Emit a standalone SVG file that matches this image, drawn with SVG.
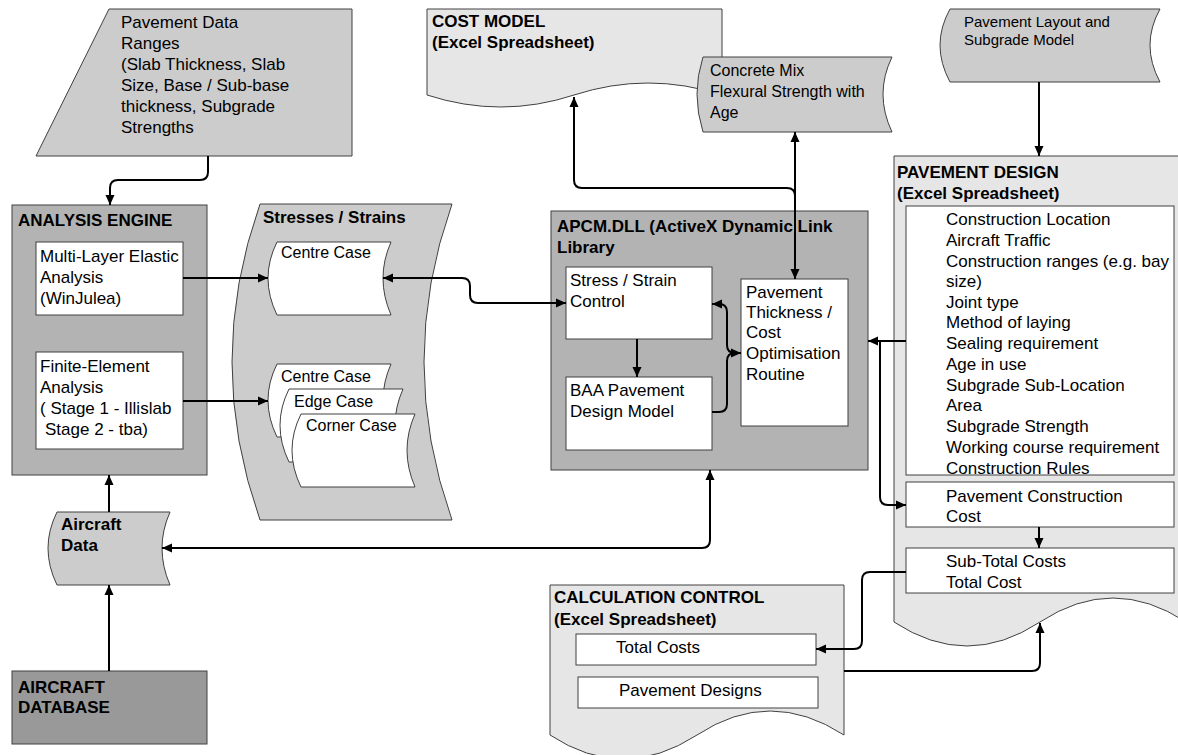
<svg xmlns="http://www.w3.org/2000/svg" width="1178" height="755" viewBox="0 0 1178 755">
<style>
text{font-family:"Liberation Sans",Arial,Helvetica,sans-serif;font-size:17px;fill:#000}
.b{font-weight:bold}
.m{font-size:16px}
.sm{font-size:15px}
.sh{stroke:#404040;stroke-width:1}
.g1{fill:#cccccc}
.g2{fill:#b3b3b3}
.g3{fill:#e6e6e6}
.g4{fill:#999999}
.w{fill:#ffffff}
.c{fill:none;stroke:#000;stroke-width:2}
</style>
<defs>
<marker id="a" viewBox="0 0 10 10" refX="10" refY="5" markerWidth="10" markerHeight="10" markerUnits="userSpaceOnUse" orient="auto-start-reverse"><path d="M0,0.5 L10,5 L0,9.5 z" fill="#000"/></marker>
</defs>

<g id="pavement-data">
<path class="sh g1" d="M109,9 L352,9 L352,156 L36,156 Z"/>
<text x="121" y="28">Pavement Data</text>
<text x="121" y="49">Ranges</text>
<text x="121" y="70">(Slab Thickness, Slab</text>
<text x="121" y="91">Size, Base / Sub-base</text>
<text x="121" y="112">thickness, Subgrade</text>
<text x="121" y="133">Strengths</text>
</g>

<g id="cost-model">
<path class="sh g3" d="M427,9 L722,9 L722,95 Q648,71 574,95 Q501,119 427,95 Z"/>
<text class="b" x="432" y="27">COST MODEL</text>
<text class="b" x="432" y="48">(Excel Spreadsheet)</text>
</g>

<g id="concrete-mix">
<path class="sh g1" d="M703,57 L892,57 Q874,94 892,132 L703,132 Q691,94 703,57 Z"/>
<text class="m" x="710" y="76">Concrete Mix</text>
<text class="m" x="710" y="97">Flexural Strength with</text>
<text class="m" x="710" y="118">Age</text>
</g>

<g id="pavement-layout">
<path class="sh g1" d="M950,9 L1160,9 Q1140,45 1160,82 L950,82 Q930,45 950,9 Z"/>
<text class="sm" x="964" y="27">Pavement Layout and</text>
<text class="sm" x="964" y="45">Subgrade Model</text>
</g>

<g id="analysis-engine">
<rect class="sh g2" x="12" y="205" width="195" height="270"/>
<text class="b" x="18" y="226">ANALYSIS ENGINE</text>
</g>
<g id="multi-layer">
<rect class="sh w" x="36" y="242" width="147" height="73"/>
<text x="40" y="262">Multi-Layer Elastic</text>
<text x="40" y="283">Analysis</text>
<text x="40" y="304">(WinJulea)</text>
</g>
<g id="finite-element">
<rect class="sh w" x="36" y="352" width="147" height="97"/>
<text x="40" y="372">Finite-Element</text>
<text x="40" y="393">Analysis</text>
<text x="40" y="414">( Stage 1 - Illislab</text>
<text x="45" y="435">Stage 2 - tba)</text>
</g>

<g id="stresses-strains">
<path class="sh g1" d="M260,204 L452,204 Q396,362 452,520 L260,520 Q204,362 260,204 Z"/>
<text class="b" x="263" y="223">Stresses / Strains</text>
</g>
<g id="centre-case-1">
<path class="sh w" d="M277,242 L391,242 Q375,278 391,315 L277,315 Q259,278 277,242 Z"/>
<text class="m" x="281" y="258">Centre Case</text>
</g>
<g id="centre-case-2">
<path class="sh w" d="M277,364 L391,364 Q375,400 391,437 L277,437 Q259,400 277,364 Z"/>
<text class="m" x="281" y="382">Centre Case</text>
</g>
<g id="edge-case">
<path class="sh w" d="M289,389 L403,389 Q387,425 403,462 L289,462 Q271,425 289,389 Z"/>
<text class="m" x="294" y="407">Edge Case</text>
</g>
<g id="corner-case">
<path class="sh w" d="M301,414 L415,414 Q399,450 415,487 L301,487 Q283,450 301,414 Z"/>
<text class="m" x="306" y="431">Corner Case</text>
</g>

<g id="apcm">
<rect class="sh g2" x="551" y="211" width="317" height="259"/>
<text class="b" x="557" y="232">APCM.DLL (ActiveX Dynamic Link</text>
<text class="b" x="557" y="253">Library</text>
</g>
<g id="stress-control">
<rect class="sh w" x="566" y="267" width="146" height="72"/>
<text x="570" y="286">Stress / Strain</text>
<text x="570" y="307">Control</text>
</g>
<g id="baa-model">
<rect class="sh w" x="566" y="377" width="146" height="73"/>
<text x="570" y="396">BAA Pavement</text>
<text x="570" y="417">Design Model</text>
</g>
<g id="optimisation">
<rect class="sh w" x="741" y="279" width="107" height="147"/>
<text x="746" y="298">Pavement</text>
<text x="746" y="318">Thickness /</text>
<text x="746" y="338">Cost</text>
<text x="746" y="359">Optimisation</text>
<text x="746" y="380">Routine</text>
</g>

<g id="pavement-design">
<path class="sh g3" d="M894,156 L1186,156 L1186,622 Q1113,574 1040,622 Q967,670 894,622 Z"/>
<text class="b" x="897" y="178">PAVEMENT DESIGN</text>
<text class="b" x="897" y="199">(Excel Spreadsheet)</text>
</g>
<g id="design-inputs">
<rect class="sh w" x="906" y="206" width="268" height="269"/>
<text x="946" y="225">Construction Location</text>
<text x="946" y="246">Aircraft Traffic</text>
<text x="946" y="267">Construction ranges (e.g. bay</text>
<text x="946" y="287">size)</text>
<text x="946" y="308">Joint type</text>
<text x="946" y="328">Method of laying</text>
<text x="946" y="349">Sealing requirement</text>
<text x="946" y="370">Age in use</text>
<text x="946" y="391">Subgrade Sub-Location</text>
<text x="946" y="411">Area</text>
<text x="946" y="432">Subgrade Strength</text>
<text x="946" y="453">Working course requirement</text>
<text x="946" y="474">Construction Rules</text>
</g>
<g id="construction-cost">
<rect class="sh w" x="906" y="482" width="268" height="45"/>
<text x="946" y="502">Pavement Construction</text>
<text x="946" y="522">Cost</text>
</g>
<g id="total-cost">
<rect class="sh w" x="906" y="548" width="268" height="45"/>
<text x="946" y="567">Sub-Total Costs</text>
<text x="946" y="588">Total Cost</text>
</g>

<g id="calculation-control">
<path class="sh g3" d="M550,585 L844,585 L844,735 Q770,687 697,735 Q623,783 550,735 Z"/>
<text class="b" x="554" y="603">CALCULATION CONTROL</text>
<text class="b" x="554" y="625">(Excel Spreadsheet)</text>
</g>
<g id="total-costs">
<rect class="sh w" x="576" y="634" width="240" height="31"/>
<text x="616" y="653">Total Costs</text>
</g>
<g id="pavement-designs">
<rect class="sh w" x="578" y="677" width="240" height="31"/>
<text x="619" y="696">Pavement Designs</text>
</g>

<g id="aircraft-data">
<path class="sh g1" d="M57,512 L170,512 Q154,548 170,585 L57,585 Q39,548 57,512 Z"/>
<text class="b" x="61" y="530">Aircraft</text>
<text class="b" x="61" y="551">Data</text>
</g>
<g id="aircraft-database">
<rect class="sh g4" x="12" y="671" width="195" height="73"/>
<text class="b" x="18" y="693">AIRCRAFT</text>
<text class="b" x="18" y="713">DATABASE</text>
</g>

<g id="connectors">
<path class="c" marker-end="url(#a)" d="M208,156 L208,172 Q208,180 200,180 L118,180 Q110,180 110,188 L110,205"/>
<path class="c" marker-end="url(#a)" d="M183,278 L268,278"/>
<path class="c" marker-end="url(#a)" d="M183,401 L268,401"/>
<path class="c" marker-start="url(#a)" marker-end="url(#a)" d="M383,278 L462,278 Q470,278 470,286 L470,295 Q470,303 478,303 L566,303"/>
<path class="c" marker-end="url(#a)" d="M637,339 L637,377"/>
<path class="c" marker-end="url(#a)" d="M712,412 L719,412 Q727,412 727,404 L727,361 Q727,353 735,353 L741,353"/>
<path class="c" marker-end="url(#a)" d="M735,353 Q727,353 727,345 L727,312 Q727,304 719,304 L712,304"/>
<path class="c" marker-start="url(#a)" marker-end="url(#a)" d="M795,132 L795,279"/>
<path class="c" marker-end="url(#a)" d="M795,196 Q795,188 787,188 L582,188 Q574,188 574,180 L574,97"/>
<path class="c" marker-end="url(#a)" d="M1039,82 L1039,156"/>
<path class="c" marker-end="url(#a)" d="M906,341 L868,341"/>
<path class="c" marker-end="url(#a)" d="M880,341 Q880,341 880,349 L880,497 Q880,505 888,505 L906,505"/>
<path class="c" marker-end="url(#a)" d="M1039,527 L1039,548"/>
<path class="c" marker-end="url(#a)" d="M906,572 L870,572 Q862,572 862,580 L862,641 Q862,649 854,649 L816,649"/>
<path class="c" marker-end="url(#a)" d="M844,671 L1032,671 Q1040,671 1040,663 L1040,623"/>
<path class="c" marker-start="url(#a)" marker-end="url(#a)" d="M162,548 L702,548 Q710,548 710,540 L710,470"/>
<path class="c" marker-end="url(#a)" d="M109,512 L109,475"/>
<path class="c" marker-end="url(#a)" d="M109,671 L109,585"/>
</g>
</svg>
